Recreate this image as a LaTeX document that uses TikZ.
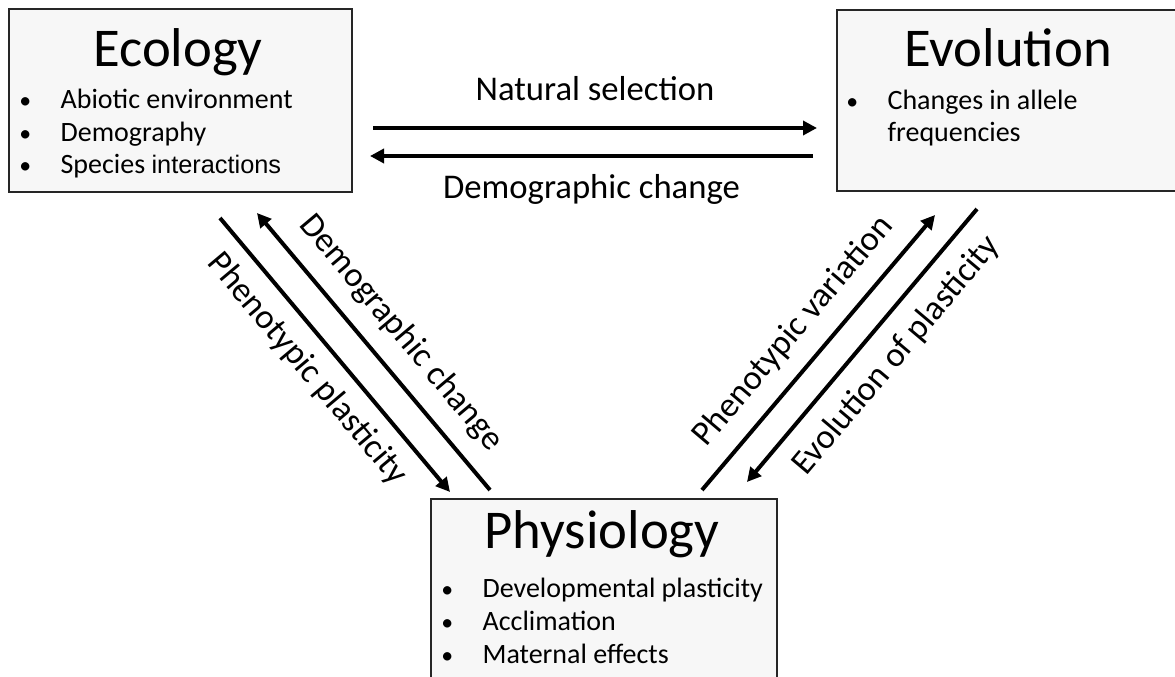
\documentclass[tikz,border=0pt]{standalone}
\usepackage{fontspec}
\setmainfont{Carlito}
\newfontfamily\arialfont{Liberation Sans}
\usetikzlibrary{positioning}
\usetikzlibrary{arrows.meta}

\newcommand{\bul}{\makebox[31pt][l]{\scalebox{0.85}{\textbullet}}}

\begin{document}
\begin{tikzpicture}[x=0.75pt, y=-0.75pt,
    box/.style={draw=black!85, line width=1.5pt, fill=black!3, anchor=north west, inner sep=0pt},
    title/.style={font=\fontsize{41}{46}\selectfont, anchor=base, inner sep=0pt},
    items/.style={font=\fontsize{21}{24.5}\selectfont, align=left, anchor=base west, inner sep=0pt},
    lbl/.style={font=\fontsize{26}{30}\selectfont, inner sep=0pt},
    arr/.style={-{Triangle[length=10.5pt, width=10.5pt]}, line width=3pt}]
  \clip (0,0) rectangle (1175,677);

  % Cajas
  \node[box, minimum width=257.25pt, minimum height=137.25pt] (eco) at (8,8) {};
  \node[box, minimum width=265.5pt, minimum height=135.75pt] (evo) at (836,9) {};
  \node[box, minimum width=259.5pt, minimum height=151.5pt] (phys) at (430,498) {};

  % Textos (el ancla base es la linea de abajo)
  \node[title] (ecot) at (178,67) {Ecology};
  \node[items] (ecol) at (19,174) {\bul Abiotic environment\\ \bul Demography\\
    \bul Species {\arialfont\fontsize{19}{24}\selectfont interactions}};
  \node[title] (evot) at (1008,67) {Evolution};
  \node[items] (evol) at (846,142) {\bul Changes in allele\\ \makebox[31pt]{}frequencies};
  \node[title] (physt) at (602,548) {Physiology};
  \node[items] (physl) at (441,663) {\bul Developmental plasticity\\ \bul Acclimation\\
    \bul Maternal effects};

  % Extremos de las flechas
  \coordinate (nsa) at (373,128);  \coordinate (nsb) at (817,128);
  \coordinate (dca) at (813,156);  \coordinate (dcb) at (370,156);
  \coordinate (ppa) at (220,218);  \coordinate (ppb) at (450,492);
  \coordinate (dda) at (490,490);  \coordinate (ddb) at (257,213);
  \coordinate (pva) at (702,490);  \coordinate (pvb) at (935,215);
  \coordinate (epa) at (977,209);  \coordinate (epb) at (747,482);

  % Flechas
  \draw[arr] (nsa) -- node[lbl, above=19pt] (nsl) {Natural selection} (nsb);
  \draw[arr] (dca) -- node[lbl, below=12pt] (dcl) {Demographic change} (dcb);
  \draw[arr] (ppa) -- node[lbl, sloped, below=10pt, pos=0.48] (ppl) {Phenotypic plasticity} (ppb);
  \draw[arr] (dda) -- node[lbl, sloped, above=12pt, pos=0.49] (ddl) {Demographic change} (ddb);
  \draw[arr] (pva) -- node[lbl, sloped, above=12pt, pos=0.5] (pvl) {Phenotypic variation} (pvb);
  \draw[arr] (epa) -- node[lbl, sloped, below=12pt, pos=0.46] (epl) {Evolution of plasticity} (epb);
\end{tikzpicture}
\end{document}
